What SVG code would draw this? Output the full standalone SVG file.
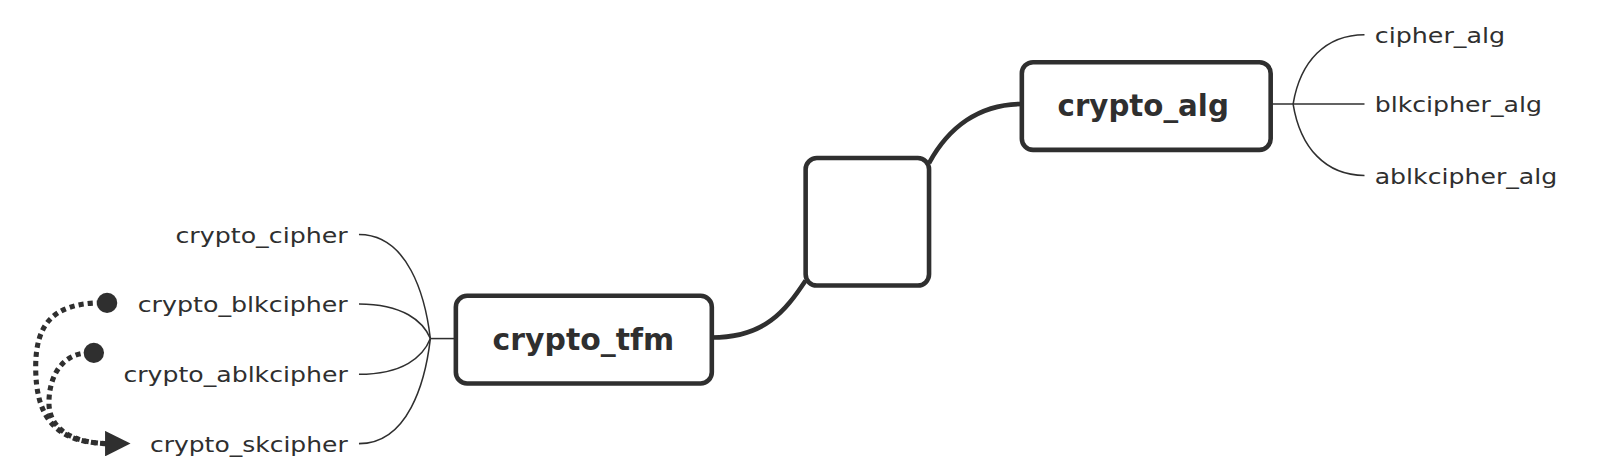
<svg xmlns="http://www.w3.org/2000/svg" width="1599" height="472" viewBox="0 0 1599 472">
<defs>
<style>
.node{fill:#fff;stroke:#2f2f2f;stroke-width:4.5}
.main{font-family:"DejaVu Sans","Liberation Sans",sans-serif;font-weight:bold;font-size:30px;fill:#2f2f2f}
.lbl{font-family:"DejaVu Sans","Liberation Sans",sans-serif;font-size:21px;fill:#2f2f2f}
.thin{fill:none;stroke:#2f2f2f;stroke-width:1.5}
.thick{fill:none;stroke:#2f2f2f;stroke-width:4.5}
.dot{fill:none;stroke:#2f2f2f;stroke-width:5;stroke-dasharray:5 4}
</style>
<marker id="arr" viewBox="0 0 10 10" refX="2" refY="5" markerWidth="5.5" markerHeight="5" markerUnits="strokeWidth" orient="auto">
<path d="M0,0 L10,5 L0,10 z" fill="#2f2f2f"/>
</marker>
</defs>
<rect width="1599" height="472" fill="#fff"/>
<g transform="scale(1.0198)">
<g id="connectors">
<path class="thick" d="M698,331 C750,331 770,305 790,275"/>
<path class="thick" d="M911,160 C930,125 960,102 1002,102"/>
<path class="thin" d="M447,332 L422,332"/>
<path class="thin" d="M352,230 C400,230 417,290 422,332"/>
<path class="thin" d="M352,298 C395,298 415,315 422,332"/>
<path class="thin" d="M352,367 C395,367 415,350 422,332"/>
<path class="thin" d="M352,435 C400,435 417,375 422,332"/>
<path class="thin" d="M1246,102 L1338,102"/>
<path class="thin" d="M1268,102 C1275,60 1300,34 1338,34"/>
<path class="thin" d="M1268,102 C1275,145 1300,172 1338,172"/>
<path class="dot" d="M100,297 C50,297 35,320 35,360 C35,410 55,435 108,435"/>
<path class="dot" d="M88,346 C60,346 48,370 48,395 C48,420 70,435 108,435" marker-end="url(#arr)"/>
<circle cx="105" cy="297" r="10" fill="#2f2f2f"/>
<circle cx="92" cy="346" r="10" fill="#2f2f2f"/>
</g>
<g id="crypto_tfm">
<rect class="node" x="447" y="290" width="251" height="86" rx="11"/>
<text class="main" x="572" y="343" text-anchor="middle" textLength="178" lengthAdjust="spacingAndGlyphs">crypto_tfm</text>
</g>
<g id="empty">
<rect class="node" x="790" y="155" width="121" height="125" rx="11"/>
</g>
<g id="crypto_alg">
<rect class="node" x="1002" y="61" width="244" height="86" rx="11"/>
<text class="main" x="1121" y="114" text-anchor="middle" textLength="168" lengthAdjust="spacingAndGlyphs">crypto_alg</text>
</g>
<g id="crypto_cipher"><text class="lbl" x="341" y="238" text-anchor="end" textLength="169" lengthAdjust="spacingAndGlyphs">crypto_cipher</text></g>
<g id="crypto_blkcipher"><text class="lbl" x="341" y="306" text-anchor="end" textLength="206" lengthAdjust="spacingAndGlyphs">crypto_blkcipher</text></g>
<g id="crypto_ablkcipher"><text class="lbl" x="341" y="375" text-anchor="end" textLength="220" lengthAdjust="spacingAndGlyphs">crypto_ablkcipher</text></g>
<g id="crypto_skcipher"><text class="lbl" x="341" y="443" text-anchor="end" textLength="194" lengthAdjust="spacingAndGlyphs">crypto_skcipher</text></g>
<g id="cipher_alg"><text class="lbl" x="1348" y="42" textLength="128" lengthAdjust="spacingAndGlyphs">cipher_alg</text></g>
<g id="blkcipher_alg"><text class="lbl" x="1348" y="110" textLength="164" lengthAdjust="spacingAndGlyphs">blkcipher_alg</text></g>
<g id="ablkcipher_alg"><text class="lbl" x="1348" y="180" textLength="179" lengthAdjust="spacingAndGlyphs">ablkcipher_alg</text></g>
</g>
</svg>
